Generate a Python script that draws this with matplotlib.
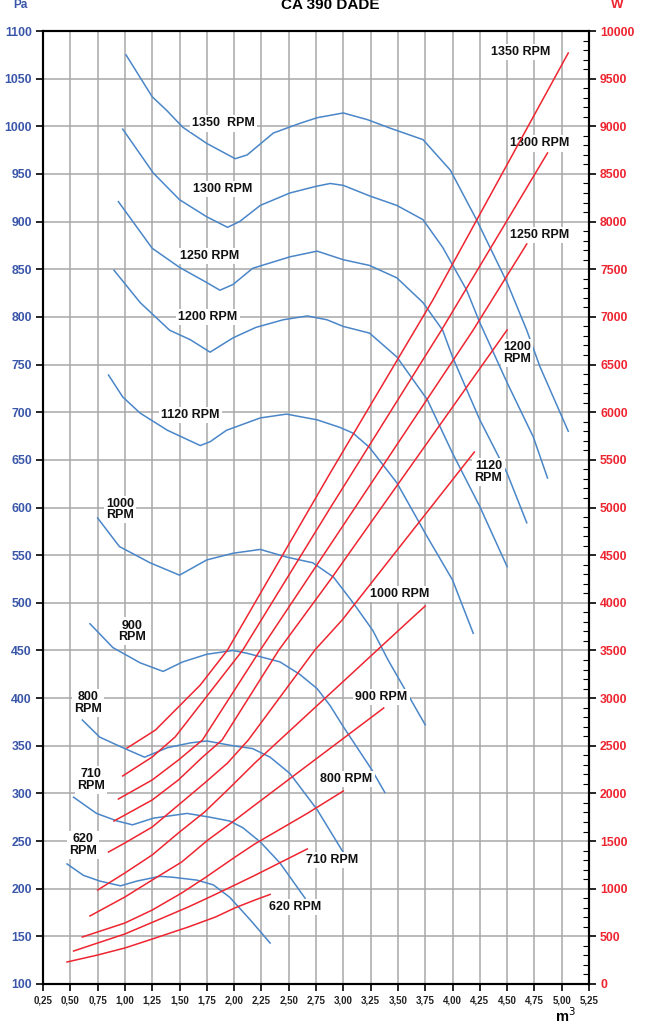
import matplotlib
matplotlib.use("Agg")
import matplotlib.pyplot as plt
from matplotlib.ticker import MultipleLocator

plt.rcParams['font.family'] = ['Liberation Sans', 'DejaVu Sans']

# pressure curves (Pa) against airflow
x1350 = [1.01, 1.25, 1.38, 1.53, 1.75, 2.01, 2.12, 2.36, 2.6, 2.76, 3.0, 3.22, 3.43, 3.73, 3.98, 4.22, 4.5, 4.68, 4.8, 5.06]
p1350 = [1075, 1031, 1017, 999, 982, 966, 970, 993, 1003, 1009, 1014, 1007, 998, 986, 954, 902, 836, 786, 748, 680]
x1300 = [0.98, 1.26, 1.5, 1.75, 1.94, 2.05, 2.24, 2.51, 2.75, 2.88, 3.0, 3.24, 3.49, 3.73, 3.91, 4.13, 4.25, 4.5, 4.74, 4.87]
p1300 = [997, 951, 923, 905, 894, 900, 917, 930, 937, 940, 938, 927, 917, 902, 873, 828, 794, 731, 674, 631]
x1250 = [0.94, 1.25, 1.5, 1.75, 1.87, 1.99, 2.17, 2.51, 2.76, 3.0, 3.24, 3.49, 3.73, 3.91, 4.0, 4.25, 4.5, 4.68]
p1250 = [921, 872, 852, 836, 828, 834, 851, 863, 869, 860, 854, 841, 815, 786, 758, 692, 636, 584]
x1200 = [0.9, 1.14, 1.41, 1.6, 1.78, 1.99, 2.2, 2.45, 2.67, 2.85, 3.0, 3.24, 3.49, 3.77, 4.0, 4.25, 4.5]
p1200 = [849, 815, 786, 776, 763, 778, 789, 797, 801, 797, 790, 783, 758, 713, 657, 601, 538]
x1120 = [0.85, 0.98, 1.14, 1.39, 1.69, 1.78, 1.93, 2.24, 2.48, 2.76, 2.97, 3.09, 3.24, 3.49, 3.77, 4.0, 4.19]
p1120 = [739, 716, 699, 681, 665, 669, 681, 694, 698, 692, 684, 678, 663, 626, 569, 524, 468]
x1000 = [0.75, 0.95, 1.23, 1.5, 1.75, 1.99, 2.24, 2.48, 2.72, 2.91, 3.09, 3.27, 3.41, 3.75]
p1000 = [589, 559, 542, 529, 545, 552, 556, 548, 542, 527, 500, 471, 440, 372]
x900 = [0.68, 0.89, 1.14, 1.35, 1.53, 1.75, 1.99, 2.12, 2.42, 2.6, 2.76, 2.88, 3.0, 3.26, 3.38]
p900 = [478, 453, 437, 428, 438, 446, 450, 447, 438, 425, 410, 392, 370, 325, 301]
x800 = [0.61, 0.77, 0.98, 1.18, 1.39, 1.6, 1.75, 1.99, 2.17, 2.33, 2.51, 2.76, 3.0]
p800 = [377, 359, 348, 338, 348, 353, 355, 350, 347, 338, 321, 283, 238]
x710 = [0.53, 0.74, 0.93, 1.07, 1.26, 1.57, 1.78, 1.96, 2.08, 2.24, 2.42, 2.65]
p710 = [296, 279, 271, 267, 274, 279, 275, 271, 264, 249, 227, 190]
x620 = [0.47, 0.62, 0.77, 0.96, 1.11, 1.32, 1.44, 1.66, 1.81, 1.96, 2.15, 2.33]
p620 = [226, 214, 208, 203, 208, 213, 212, 209, 204, 191, 167, 143]

# power curves (W)
wx1350 = [1.02, 1.28, 1.69, 1.94, 2.88, 3.82, 5.06]
w1350 = [2476, 2665, 3137, 3505, 5362, 7177, 9769]
wx1300 = [0.98, 1.25, 1.46, 2.08, 2.88, 3.9, 4.87]
w1300 = [2183, 2382, 2592, 3505, 4995, 6863, 8720]
wx1250 = [0.94, 1.25, 1.49, 1.71, 2.24, 2.88, 4.19, 4.68]
w1250 = [1941, 2141, 2350, 2560, 3505, 4607, 6863, 7765]
wx1200 = [0.9, 1.0, 1.25, 1.49, 1.71, 1.89, 2.41, 2.88, 4.5]
w1200 = [1710, 1773, 1931, 2141, 2380, 2560, 3505, 4239, 6863]
wx1120 = [0.85, 1.0, 1.25, 1.49, 1.73, 1.94, 2.13, 2.74, 2.99, 4.2]
w1120 = [1385, 1480, 1647, 1878, 2109, 2319, 2560, 3505, 3820, 5582]
wx1000 = [0.75, 1.0, 1.25, 1.49, 1.73, 1.94, 2.19, 3.61, 3.75]
w1000 = [986, 1165, 1354, 1585, 1805, 2036, 2319, 3820, 3966]
wx900 = [0.68, 1.0, 1.25, 1.52, 1.76, 2.01, 2.19, 3.37]
w900 = [714, 913, 1091, 1280, 1511, 1721, 1878, 2896]
wx800 = [0.61, 0.75, 1.0, 1.25, 1.52, 1.73, 2.01, 2.19, 2.67, 3.0]
w800 = [493, 546, 640, 776, 955, 1112, 1333, 1470, 1790, 2025]
wx710 = [0.53, 0.75, 1.0, 1.28, 1.58, 1.8, 2.01, 2.19, 2.67]
w710 = [346, 430, 525, 661, 808, 925, 1040, 1140, 1417]
wx620 = [0.47, 0.75, 1.0, 1.28, 1.58, 1.83, 2.01, 2.19, 2.33]
w620 = [231, 304, 378, 483, 598, 703, 800, 881, 940]

blue = '#4a86c8'
red = '#ee2530'
tblue = '#3a56a8'

fig = plt.figure(figsize=(6.53, 10.34), dpi=100)
ax = fig.add_axes([43/653, 1-984/1034, 546/653, 953/1034])
ax2 = ax.twinx()

ax.set_xlim(0.25, 5.25)
ax.set_ylim(100, 1100)
ax2.set_ylim(0, 10000)

for v in range(2, 21):
    ax.axvline(v*0.25, color='#a8a8a8', lw=1.1, zorder=0)
for v in range(150, 1100, 50):
    ax.axhline(v, color='#a8a8a8', lw=1.1, zorder=0)

for xs, ys in [(x1350, p1350), (x1300, p1300), (x1250, p1250), (x1200, p1200), (x1120, p1120),
               (x1000, p1000), (x900, p900), (x800, p800), (x710, p710), (x620, p620)]:
    ax.plot(xs, ys, color=blue, lw=1.1, zorder=2)

for xs, ys in [(wx1350, w1350), (wx1300, w1300), (wx1250, w1250), (wx1200, w1200), (wx1120, w1120),
               (wx1000, w1000), (wx900, w900), (wx800, w800), (wx710, w710), (wx620, w620)]:
    ax2.plot(xs, ys, color=red, lw=1.1, zorder=2)

ax.set_xticks([0.25 + 0.25*i for i in range(21)])
ax.set_xticklabels([('%.2f' % (0.25 + 0.25*i)).replace('.', ',') for i in range(21)],
                   fontsize=7, fontweight='bold', color='#222222')
ax.set_yticks(range(100, 1101, 50))
ax.set_yticklabels([str(v) for v in range(100, 1101, 50)], fontsize=8.8, fontweight='bold', color=tblue)
ax2.set_yticks(range(0, 10001, 500))
ax2.set_yticklabels([str(v) for v in range(0, 10001, 500)], fontsize=8.8, fontweight='bold', color=red)
ax2.yaxis.set_minor_locator(MultipleLocator(100))
ax.tick_params(axis='both', direction='out', length=5, width=1.2)
ax.tick_params(axis='y', pad=3)
ax2.tick_params(axis='y', which='major', direction='out', length=5, width=1.2, pad=3)
ax2.tick_params(axis='y', which='minor', direction='in', length=4, width=0.8)

for a in (ax, ax2):
    for s in a.spines.values():
        s.set_linewidth(1.5)

box = dict(facecolor='white', edgecolor='none', pad=1.5)
lab = dict(fontsize=9, fontweight='bold', ha='center', va='center', zorder=5, bbox=box, color='#111111')

ax.text(1.90, 1003, '1350  RPM', **lab)
ax.text(1.90, 934, '1300 RPM', **lab)
ax.text(1.78, 864, '1250 RPM', **lab)
ax.text(1.76, 800, '1200 RPM', **lab)
ax.text(1.60, 697, '1120 RPM', **lab)
ax.text(0.955, 598, '1000\nRPM', linespacing=0.95, **lab)
ax.text(1.07, 470, '900\nRPM', linespacing=0.95, **lab)
ax.text(0.66, 395, '800\nRPM', linespacing=0.95, **lab)
ax.text(0.69, 314, '710\nRPM', linespacing=0.95, **lab)
ax.text(0.62, 246, '620\nRPM', linespacing=0.95, **lab)
ax.text(4.62, 1078, '1350 RPM', **lab)
ax.text(4.80, 982, '1300 RPM', **lab)
ax.text(4.80, 886, '1250 RPM', **lab)
ax.text(4.59, 762, '1200\nRPM', linespacing=0.95, **lab)
ax.text(4.33, 637, '1120\nRPM', linespacing=0.95, **lab)
ax.text(3.52, 509, '1000 RPM', **lab)
ax.text(3.35, 401, '900 RPM', **lab)
ax.text(3.03, 315, '800 RPM', **lab)
ax.text(2.90, 230, '710 RPM', **lab)
ax.text(2.56, 181, '620 RPM', **lab)

fig.text(330/653, 1-5/1034, 'CA 390 DADE', ha='center', va='center', fontsize=11, fontweight='bold')
fig.text(20/653, 1-5/1034, 'Pa', ha='center', va='center', fontsize=8.5, fontweight='bold', color=tblue)
fig.text(617/653, 1-5/1034, 'W', ha='center', va='center', fontsize=9.5, fontweight='bold', color=red)
fig.text(565/653, 1-1016/1034, 'm$^{3}$', ha='center', va='center', fontsize=10.5, fontweight='bold')

fig.savefig('out.png', dpi=100)
